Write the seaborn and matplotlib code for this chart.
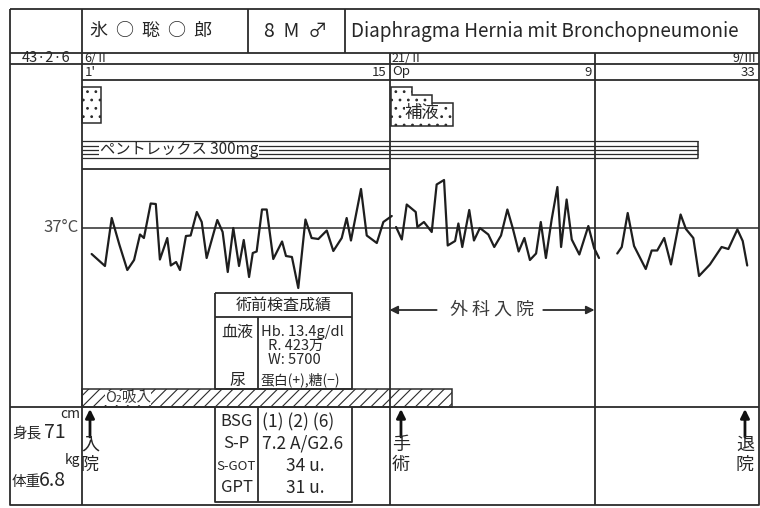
import matplotlib
matplotlib.use('Agg')
import matplotlib.pyplot as plt
from matplotlib.patches import Rectangle, Polygon
from matplotlib.transforms import blended_transform_factory
import pandas as pd
import seaborn as sns

sns.set_style('white')
plt.rcParams['font.family'] = ['Noto Sans CJK JP', 'DejaVu Sans']
plt.rcParams['hatch.linewidth'] = 0.8

# body temperature: day since admission (6/II = day 0), degC
pre_day = [0.47, 1.12, 1.45, 1.82, 2.21, 2.54, 2.83, 3.02, 3.35, 3.60, 3.80, 4.16,
           4.33, 4.59, 4.78, 5.07, 5.30, 5.60, 5.84, 6.08, 6.60, 6.86, 7.11, 7.38,
           7.66, 7.89, 8.15, 8.33, 8.52, 8.78, 9.01, 9.33, 9.76, 9.95, 10.24, 10.55,
           10.90, 11.20, 11.53, 11.94, 12.26, 12.67, 12.91, 13.12, 13.61, 13.89,
           14.38, 14.70, 15.11]
pre_temp = [36.47, 36.23, 37.19, 36.66, 36.15, 36.35, 36.86, 36.79, 37.48, 37.47,
            36.36, 36.79, 36.24, 36.31, 36.15, 36.83, 36.84, 37.31, 37.11, 36.39,
            37.15, 36.91, 36.11, 36.99, 36.23, 36.75, 36.01, 36.49, 36.52, 37.36,
            37.36, 36.37, 36.72, 36.43, 36.41, 35.79, 37.16, 36.79, 36.77, 36.94,
            36.53, 36.79, 37.19, 36.74, 37.77, 36.84, 36.69, 37.11, 37.23]
post_day = [15.32, 15.60, 15.84, 16.28, 16.36, 16.68, 17.06, 17.30, 17.66, 17.84,
            18.20, 18.36, 18.55, 18.89, 19.12, 19.41, 19.82, 20.11, 20.44, 20.75,
            21.01, 21.30, 21.58, 21.85, 22.15, 22.38, 22.63, 22.91, 23.19, 23.37,
            23.64, 23.89, 24.26, 24.70, 24.98, 25.22]
post_temp = [37.01, 36.76, 37.46, 37.31, 37.01, 37.11, 36.91, 37.86, 37.95, 36.64,
             36.73, 37.08, 36.61, 37.35, 36.74, 36.99, 36.86, 36.61, 36.84, 37.36,
             36.99, 36.52, 36.79, 36.35, 36.48, 37.11, 36.39, 37.16, 37.81, 36.61,
             37.56, 36.76, 36.46, 37.03, 36.59, 36.39]
late_day = [26.11, 26.33, 26.62, 26.93, 27.50, 27.79, 28.06, 28.40, 28.73, 29.20,
            29.46, 29.82, 30.10, 30.63, 31.20, 31.53, 31.97, 32.23, 32.45]
late_temp = [36.48, 36.61, 37.29, 36.63, 36.17, 36.54, 36.54, 36.79, 36.26, 37.26,
             36.97, 36.79, 36.03, 36.26, 36.61, 36.57, 36.96, 36.73, 36.24]

# treatments (day ranges)
infusion_pre = (0.0, 0.93)
infusion_post_edges = [15.05, 16.1, 17.07, 18.1]
infusion_post_level = [1.0, 0.8, 0.6]
pentrex_days = (0.0, 30.05)
o2_days = (0.0, 18.05)

# events
event_names = ['入\n院', '手\n術', '退\n院']
event_days = [0.39, 15.56, 32.34]

# date / day-count labels
section_days = [0, 15, 25]
date_labels = ['6/Ⅱ', '21/Ⅱ', '9/Ⅲ']
date_days = [0, 15, 33]
count_labels = ["1'", '15', 'Op', '9', '33']
count_days = [0, 15, 15, 25, 33]
count_align = ['left', 'right', 'left', 'right', 'right']

LC = '#2b2b2b'
TC = '#262626'
LW = 1.3

fig = plt.figure(figsize=(7.6, 5.08), dpi=100)
ax = fig.add_axes([0, 0, 1, 1], label='form')
ax.set_xlim(0, 760)
ax.set_ylim(508, 0)
ax.axis('off')

axd = fig.add_axes([0, 0, 1, 1], label='data')
axd.patch.set_visible(False)

tx = blended_transform_factory(axd.transData, ax.transData)  # x: day, y: px
ty = blended_transform_factory(ax.transData, axd.transData)  # x: px, y: degC

def line(xs, ys, **kw):
    ax.plot(xs, ys, color=kw.pop('color', LC), lw=kw.pop('lw', LW),
            solid_capstyle='butt', **kw)

# temperature curve
temp_df = pd.concat([
    pd.DataFrame({'day': pre_day, 'temp': pre_temp, 'seg': 'pre'}),
    pd.DataFrame({'day': post_day, 'temp': post_temp, 'seg': 'post'}),
    pd.DataFrame({'day': late_day, 'temp': late_temp, 'seg': 'late'}),
])
sns.lineplot(data=temp_df, x='day', y='temp', units='seg', estimator=None,
             color='#1e1e1e', lw=1.6, legend=False, ax=axd)
axd.set_xlim(-82 / 20.5, 678 / 20.5)
axd.set_ylim(37 - (508 - 227.5) / 50, 37 + 227.5 / 50)
axd.axis('off')

# outer frame and rows
line([10, 759, 759, 10, 10], [9, 9, 505, 505, 9])
line([10, 759], [53, 53])
line([10, 759], [64, 64])
line([82, 759], [80, 80])
line([10, 759], [407, 407])
for x in [248, 345]:
    line([x, x], [9, 53])
line([0, 0], [9, 505], transform=tx)
for d in section_days[1:]:
    line([d, d], [53, 505], transform=tx)
line([0, 15], [169, 169], transform=tx)

# header
ax.text(90, 31, '氷  ○  聡  ○  郎', fontsize=13, color=TC, va='center')
ax.text(264, 31, '8  M  ♂', fontsize=14, color=TC, va='center')
ax.text(351, 31, 'Diaphragma Hernia mit Bronchopneumonie', fontsize=13.6,
        color=TC, va='center')
ax.text(46, 58.5, '43·2·6', fontsize=10.5, color=TC, va='center', ha='center')
for lab, d in zip(date_labels, date_days):
    ha = 'right' if d == date_days[-1] else 'left'
    ax.text(d + (-0.1 if ha == 'right' else 0.12), 58.5, lab, fontsize=9,
            color=TC, va='center', ha=ha, transform=tx)
for lab, d, ha in zip(count_labels, count_days, count_align):
    ax.text(d + (-0.15 if ha == 'right' else 0.12), 72, lab, fontsize=9.5,
            color=TC, va='center', ha=ha, transform=tx)

# infusions
ax.add_patch(Rectangle((infusion_pre[0], 87), infusion_pre[1] - infusion_pre[0], 36,
                       transform=tx, facecolor='white', edgecolor=LC, lw=1.1,
                       hatch='..'))
pts = [(infusion_post_edges[0], 126)]
for i, lev in enumerate(infusion_post_level):
    top = 126 - 39 * lev
    pts += [(infusion_post_edges[i], top), (infusion_post_edges[i + 1], top)]
pts += [(infusion_post_edges[-1], 126)]
ax.add_patch(Polygon(pts, closed=True, transform=tx, facecolor='white',
                     edgecolor=LC, lw=1.1, hatch='..'))
ax.text(16.6, 113, '補液', fontsize=12.5, color=TC, va='center', ha='center',
        transform=tx, bbox=dict(facecolor='white', edgecolor='none', pad=0))

# pentrex
for yy in [141, 145.5, 149.5, 154, 158]:
    line(pentrex_days, [yy, yy], lw=0.9, transform=tx,
         zorder=3 if yy in (141, 158) else 2)
line([pentrex_days[1]] * 2, [141, 158], lw=1.1, transform=tx)
ax.text(100, 149.5, 'ペントレックス 300mg', fontsize=11, color=TC, va='center',
        ha='left', zorder=2.5, bbox=dict(facecolor='white', edgecolor='none', pad=0.5))

# 37 degC reference
line([82, 759], [37, 37], transform=ty, lw=1.1)
ax.text(79, 227.5, '37°C', fontsize=12, color='#4a4a4a', va='center', ha='right')

# surgical admission span
ax.annotate('', xy=(15, 310), xytext=(17.3, 310), xycoords=tx, textcoords=tx,
            arrowprops=dict(arrowstyle='-|>', color=LC, lw=1.3, mutation_scale=12,
                            shrinkA=0, shrinkB=0))
ax.annotate('', xy=(25, 310), xytext=(22.5, 310), xycoords=tx, textcoords=tx,
            arrowprops=dict(arrowstyle='-|>', color=LC, lw=1.3, mutation_scale=12,
                            shrinkA=0, shrinkB=0))
ax.text(20, 310, '外 科 入 院', fontsize=13, color='#3a3a3a', va='center',
        ha='center', transform=tx)

# O2
ax.add_patch(Rectangle((o2_days[0], 389), o2_days[1] - o2_days[0], 18, transform=tx,
                       facecolor='white', edgecolor=LC, lw=1.1, hatch='///'))
ax.text(105, 398, 'O₂吸入', fontsize=10.5, color=TC, va='center', ha='left',
        bbox=dict(facecolor='white', edgecolor='none', pad=0), alpha=0.9)

# events
for name, d in zip(event_names, event_days):
    ax.annotate('', xy=(d, 409), xytext=(d, 437), xycoords=tx, textcoords=tx,
                arrowprops=dict(arrowstyle='-|>', color='#111', lw=2,
                                mutation_scale=13, shrinkA=0, shrinkB=0))
    ax.text(d, 436, name, fontsize=13, color=TC, va='top', ha='center',
            linespacing=1.15, transform=tx)

# pre-op lab table
line([215, 352, 352, 215, 215], [293, 293, 389, 389, 293])
line([215, 352], [317, 317])
line([258, 258], [317, 389])
ax.text(283.5, 305, '術前検査成績', fontsize=11.5, color=TC, va='center', ha='center')
ax.text(237, 332, '血液', fontsize=11.5, color=TC, va='center', ha='center')
ax.text(237, 380, '尿', fontsize=11.5, color=TC, va='center', ha='center')
ax.text(261, 332, 'Hb. 13.4g/dl', fontsize=10.5, color=TC, va='center', ha='left')
ax.text(268, 346, 'R. 423万', fontsize=10.5, color=TC, va='center', ha='left')
ax.text(268, 360, 'W: 5700', fontsize=10.5, color=TC, va='center', ha='left')
ax.text(261, 380, '蛋白(+),糖(−)', fontsize=10, color=TC, va='center', ha='left')

line([215, 215, 352, 352], [407, 502, 502, 407])
line([258, 258], [407, 502])
for lab, val, yy in zip(['BSG', 'S-P', 'S-GOT', 'GPT'],
                        ['(1) (2) (6)', '7.2 A/G2.6', '34 u.', '31 u.'],
                        [422, 444, 466, 488]):
    ax.text(236.5, yy, lab, fontsize=12 if lab != 'S-GOT' else 9.5, color=TC,
            va='center', ha='center')
    ax.text(305 if 'u.' in val else 262, yy, val, fontsize=12.5, color=TC,
            va='center', ha='center' if 'u.' in val else 'left')

# height / weight
ax.text(12, 434, '身長', fontsize=10.5, color=TC, va='center', ha='left')
ax.text(44, 433, '71', fontsize=14, color=TC, va='center', ha='left')
ax.text(80, 414, 'cm', fontsize=10, color=TC, va='center', ha='right')
ax.text(80, 460, 'kg', fontsize=10, color=TC, va='center', ha='right')
ax.text(12, 482, '体重', fontsize=10.5, color=TC, va='center', ha='left')
ax.text(39, 480, '6.8', fontsize=14, color=TC, va='center', ha='left')

fig.savefig('out.png', dpi=100, facecolor='white')
